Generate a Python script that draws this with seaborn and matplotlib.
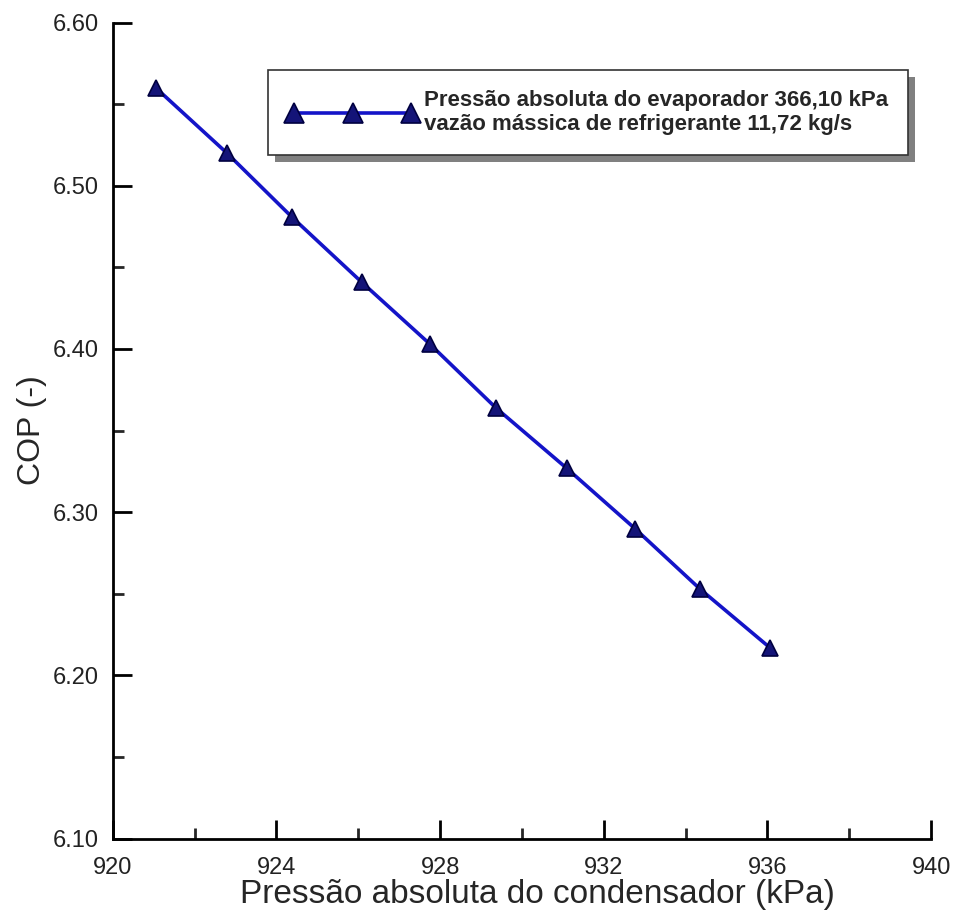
import numpy as np
import pandas as pd
import seaborn as sns
import matplotlib
matplotlib.use("Agg")
import matplotlib.pyplot as plt
import matplotlib.patheffects as pe
from matplotlib.ticker import MultipleLocator, FormatStrFormatter

# values
p_cond = [921.05, 922.79, 924.37, 926.08, 927.75, 929.36, 931.09, 932.76, 934.35, 936.06]
cop = [6.560, 6.520, 6.481, 6.441, 6.403, 6.364, 6.327, 6.290, 6.253, 6.217]
serie = "Pressão absoluta do evaporador 366,10 kPa\nvazão mássica de refrigerante 11,72 kg/s"

data = pd.DataFrame({"p": p_cond, "cop": cop})

sns.set_style("ticks")
plt.rcParams["font.family"] = ["Liberation Sans", "DejaVu Sans"]

fig = plt.figure(figsize=(9.56, 9.16), dpi=100)
ax = fig.add_axes([0.118, 0.0844, 0.856, 0.891])

sns.lineplot(data=data, x="p", y="cop", ax=ax, color="#1414c8", linewidth=2.6,
             marker="^", markersize=11, markerfacecolor="#141478",
             markeredgecolor="#000040", markeredgewidth=1.2, label=serie, legend=False)

ax.set_xlim(920, 940)
ax.set_ylim(6.10, 6.60)
ax.xaxis.set_major_locator(MultipleLocator(4))
ax.xaxis.set_minor_locator(MultipleLocator(2))
ax.yaxis.set_major_locator(MultipleLocator(0.1))
ax.yaxis.set_minor_locator(MultipleLocator(0.05))
ax.yaxis.set_major_formatter(FormatStrFormatter("%.2f"))

ax.tick_params(which="major", direction="in", length=14, width=2, labelsize=17,
               colors="black", labelcolor="#222222", pad=10)
ax.tick_params(axis="x", which="major", pad=13)
ax.tick_params(which="minor", direction="in", length=8, width=2)

sns.despine(ax=ax)
for s in ["left", "bottom"]:
    ax.spines[s].set_linewidth(2)
    ax.spines[s].set_color("black")

ax.set_xlabel("Pressão absoluta do condensador (kPa)", fontsize=24, labelpad=0)
ax.xaxis.label.set_x(0.519)
ax.set_ylabel("COP (-)", fontsize=23, labelpad=4)

leg = ax.legend(loc="upper left", bbox_to_anchor=(0.280, 0.9236), bbox_transform=fig.transFigure,
                numpoints=3, handlelength=5.85, shadow=False, fancybox=False, frameon=True,
                framealpha=1.0, facecolor="white", borderaxespad=0,
                prop={"weight": "bold", "size": 16}, borderpad=0.9, handletextpad=0.3,
                markerscale=1.3)
frame = leg.get_frame()
frame.set_edgecolor("#333333")
frame.set_linewidth(1.2)
frame.set_path_effects([pe.SimplePatchShadow(offset=(5, -5), shadow_rgbFace="0.5", alpha=1.0),
                        pe.Normal()])

fig.savefig("out.png", dpi=100)
